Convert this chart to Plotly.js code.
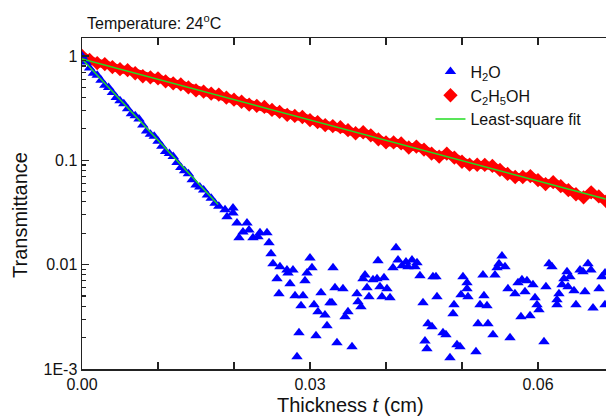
<!DOCTYPE html>
<html>
<head>
<meta charset="utf-8">
<script src="https://cdn.plot.ly/plotly-3.0.1.min.js"></script>
<style>html,body{margin:0;padding:0;overflow:hidden;background:#fff}#chart{width:606px;height:417px}</style>
</head>
<body>
<div id="chart"></div>
<script>
// ---- Data ----
// H2O: dense initial band (0 – 0.018 cm)
var h2oBand_t = [0.0000,0.0005,0.0010,0.0015,0.0020,0.0025,0.0030,0.0035,0.0040,0.0045,0.0050,0.0055,0.0060,0.0065,0.0070,0.0075,0.0080,0.0085,0.0090,0.0095,0.0100,0.0105,0.0110,0.0115,0.0120,0.0125,0.0130,0.0135,0.0140,0.0145,0.0150,0.0155,0.0160,0.0165,0.0170,0.0175,0.0180];
var h2oBand_T = [1.0,0.874,0.765,0.684,0.653,0.584,0.523,0.499,0.446,0.399,0.373,0.349,0.312,0.279,0.267,0.249,0.218,0.1906,0.1781,0.1702,0.1522,0.1361,0.1217,0.1163,0.1087,0.0951,0.0851,0.0795,0.0743,0.0650,0.0581,0.0555,0.0519,0.0464,0.0434,0.0388,0.0362];
// H2O: scattered points after the band
var h2oScatter_t = [0.01882,0.01987,0.01908,0.01987,0.02039,0.02171,0.02118,0.02197,0.02066,0.02250,0.02342,0.02434,0.02316,0.02461,0.02487,0.02513,0.02605,0.02697,0.02776,0.02711,0.03000,0.03026,0.02961,0.02566,0.02737,0.02934,0.02592,0.02803,0.02908,0.02882,0.03145,0.03053,0.03105,0.03197,0.03263,0.03224,0.03303,0.03329,0.02855,0.03079,0.03355,0.02829,0.03434,0.03289,0.03500,0.03461,0.03553,0.03618,0.03632,0.03671,0.03697,0.03724,0.03750,0.03776,0.03829,0.03882,0.03895,0.03921,0.03974,0.04013,0.03947,0.04053,0.04132,0.04158,0.04092,0.04211,0.04263,0.04342,0.04289,0.04408,0.04382,0.04447,0.04487,0.04618,0.04658,0.04671,0.04553,0.04605,0.04513,0.04539,0.04750,0.04789,0.04934,0.04842,0.04895,0.04882,0.04987,0.05013,0.05066,0.05079,0.05066,0.04974,0.05184,0.05211,0.05342,0.05408,0.05237,0.05289,0.05329,0.05276,0.05434,0.05461,0.05487,0.05526,0.05566,0.05605,0.05632,0.05697,0.05737,0.05789,0.05829,0.05855,0.05934,0.05961,0.05987,0.06013,0.05776,0.05895,0.06079,0.06105,0.06145,0.06184,0.06250,0.06250,0.06276,0.06316,0.06342,0.06382,0.06421,0.06395,0.06474,0.06500,0.06553,0.06592,0.06618,0.06658,0.06697,0.06724,0.06803,0.06842,0.06882,0.06882];
var h2oScatter_T = [0.0335,0.0350,0.0287,0.0313,0.0251,0.0251,0.0206,0.0215,0.0181,0.0181,0.0202,0.0202,0.0185,0.0162,0.0127,0.0102,0.00953,0.00891,0.00891,0.00834,0.0116,0.00932,0.00834,0.00731,0.00655,0.00700,0.00525,0.00503,0.00503,0.00403,0.00537,0.00412,0.00353,0.00330,0.00431,0.00259,0.00932,0.00600,0.00222,0.00208,0.00178,0.00131,0.00586,0.00431,0.00353,0.00316,0.00163,0.00525,0.00440,0.00394,0.00731,0.00798,0.00600,0.00492,0.00715,0.00731,0.01087,0.00613,0.00748,0.00586,0.00492,0.00481,0.0145,0.0111,0.00932,0.00975,0.0106,0.0111,0.00953,0.0104,0.00953,0.00781,0.00431,0.00764,0.00764,0.00492,0.00271,0.00254,0.00186,0.00156,0.00222,0.00213,0.00171,0.00128,0.00412,0.00338,0.00514,0.00764,0.00670,0.00492,0.00586,0.00163,0.00146,0.00271,0.00271,0.00213,0.00412,0.00503,0.00403,0.00798,0.00798,0.00932,0.0102,0.0121,0.00953,0.00586,0.00199,0.00525,0.00670,0.00715,0.00549,0.00700,0.00641,0.00481,0.00412,0.00369,0.00316,0.00323,0.00182,0.00613,0.0102,0.00953,0.00460,0.00412,0.00525,0.00641,0.00731,0.00853,0.00764,0.00613,0.00561,0.00412,0.00891,0.00853,0.00549,0.0102,0.00891,0.00385,0.00586,0.00764,0.00834,0.00412];
// C2H5OH
var etoh_t = [0.000,0.001,0.002,0.003,0.004,0.005,0.006,0.007,0.008,0.009,0.010,0.011,0.012,0.013,0.014,0.015,0.016,0.017,0.018,0.019,0.020,0.021,0.022,0.023,0.024,0.025,0.026,0.027,0.028,0.029,0.030,0.031,0.032,0.033,0.034,0.035,0.036,0.037,0.038,0.039,0.040,0.041,0.042,0.043,0.044,0.045,0.046,0.047,0.048,0.049,0.050,0.051,0.052,0.053,0.054,0.055,0.056,0.057,0.058,0.059,0.060,0.061,0.062,0.063,0.064,0.065,0.066,0.067,0.068,0.069];
var etoh_T = [1.0,0.914,0.855,0.836,0.782,0.747,0.730,0.683,0.639,0.624,0.610,0.571,0.546,0.533,0.499,0.467,0.456,0.436,0.426,0.399,0.381,0.364,0.341,0.333,0.325,0.304,0.291,0.272,0.266,0.260,0.243,0.2325,0.2175,0.2126,0.2077,0.1943,0.1817,0.1856,0.1735,0.1589,0.1486,0.1484,0.1450,0.1327,0.1355,0.1268,0.1160,0.1085,0.1158,0.1059,0.0969,0.0907,0.0906,0.0905,0.0884,0.0809,0.0740,0.0692,0.0692,0.0706,0.0646,0.0592,0.0617,0.0565,0.0517,0.0473,0.0442,0.0493,0.0451,0.0404];
// Least-square fits (end points)
var fitH2O_t = [0.0, 0.0179];
var fitH2O_T = [0.935, 0.0377];
var fitEtOH_t = [0.0, 0.0689];
var fitEtOH_T = [0.935, 0.0425];
// Axis ticks
var xTickVals = [0, 0.03, 0.06];
var xTickText = ['0.00', '0.03', '0.06'];
var xMinorVals = [0.01, 0.02, 0.04, 0.05];
var yTickVals = [0.001, 0.01, 0.1, 1];
var yTickText = ['1E-3', '0.01', '0.1', '1'];
var yMinorVals = [0.002,0.003,0.004,0.005,0.006,0.007,0.008,0.009,0.02,0.03,0.04,0.05,0.06,0.07,0.08,0.09,0.2,0.3,0.4,0.5,0.6,0.7,0.8,0.9];

var FONT = 'Liberation Sans, Arial, Helvetica, sans-serif';
var BLUE = '#0000ff', RED = '#ff0000', GREEN = '#22dd22';

var traces = [
  {x: etoh_t, y: etoh_T, mode: 'lines', line: {color: RED, width: 8}, showlegend: false, hoverinfo: 'skip'},
  {x: etoh_t, y: etoh_T, mode: 'markers', name: 'C<sub>2</sub>H<sub>5</sub>OH', legendrank: 2,
   marker: {symbol: 'diamond', size: 11, color: RED}},
  {x: h2oBand_t.concat(h2oScatter_t), y: h2oBand_T.concat(h2oScatter_T), mode: 'markers', name: 'H<sub>2</sub>O', legendrank: 1,
   marker: {symbol: 'triangle-up', size: 10, color: BLUE}},
  {x: fitH2O_t, y: fitH2O_T, mode: 'lines', name: 'Least-square fit', legendrank: 3, line: {color: GREEN, width: 1.5}},
  {x: fitEtOH_t, y: fitEtOH_T, mode: 'lines', showlegend: false, line: {color: GREEN, width: 1.5}}
];

var axisCommon = {
  showline: true, linecolor: '#222', linewidth: 1.5, showgrid: false, zeroline: false,
  ticks: 'inside', ticklen: 7, tickwidth: 1.3, tickcolor: '#222',
  tickfont: {family: FONT, size: 16, color: '#111'}
};

var layout = {
  width: 606, height: 417,
  margin: {l: 82, r: 0, t: 38, b: 48},
  paper_bgcolor: '#fff', plot_bgcolor: '#fff',
  font: {family: FONT, color: '#111'},
  showlegend: true,
  legend: {x: 0.665, y: 0.95, xanchor: 'left', yanchor: 'top', bgcolor: 'rgba(0,0,0,0)',
           font: {family: FONT, size: 16, color: '#111'}, tracegroupgap: 0},
  xaxis: Object.assign({}, axisCommon, {
    range: [0, 0.06895], tickmode: 'array', tickvals: xTickVals, ticktext: xTickText, mirror: 'ticks',
    minor: {ticks: 'inside', ticklen: 7, tickcolor: '#222', tickwidth: 1.3, tickmode: 'array', tickvals: xMinorVals}
  }),
  yaxis: Object.assign({}, axisCommon, {
    type: 'log', range: [-3, 0.172], tickmode: 'array', tickvals: yTickVals, ticktext: yTickText, mirror: false,
    minor: {ticks: 'inside', ticklen: 4, tickcolor: '#222', tickwidth: 1.2, tickmode: 'array', tickvals: yMinorVals}
  }),
  annotations: [
    {text: 'Temperature: 24<sup>o</sup>C', xref: 'paper', yref: 'paper', x: 0.006, y: 1.048,
     xanchor: 'left', yanchor: 'middle', showarrow: false, font: {family: FONT, size: 16, color: '#111'}},
    {text: 'Thickness <i>t</i> (cm)', xref: 'paper', yref: 'paper', x: (350 - 82) / 524, y: (369 - 405) / 331,
     xanchor: 'center', yanchor: 'middle', showarrow: false, font: {family: FONT, size: 20, color: '#111'}},
    {text: 'Transmittance', xref: 'paper', yref: 'paper', x: (20 - 82) / 524, y: (369 - 215) / 331, textangle: -90,
     xanchor: 'center', yanchor: 'middle', showarrow: false, font: {family: FONT, size: 20, color: '#111'}}
  ]
};

Plotly.newPlot('chart', traces, layout, {displayModeBar: false, staticPlot: true});
</script>
</body>
</html>
